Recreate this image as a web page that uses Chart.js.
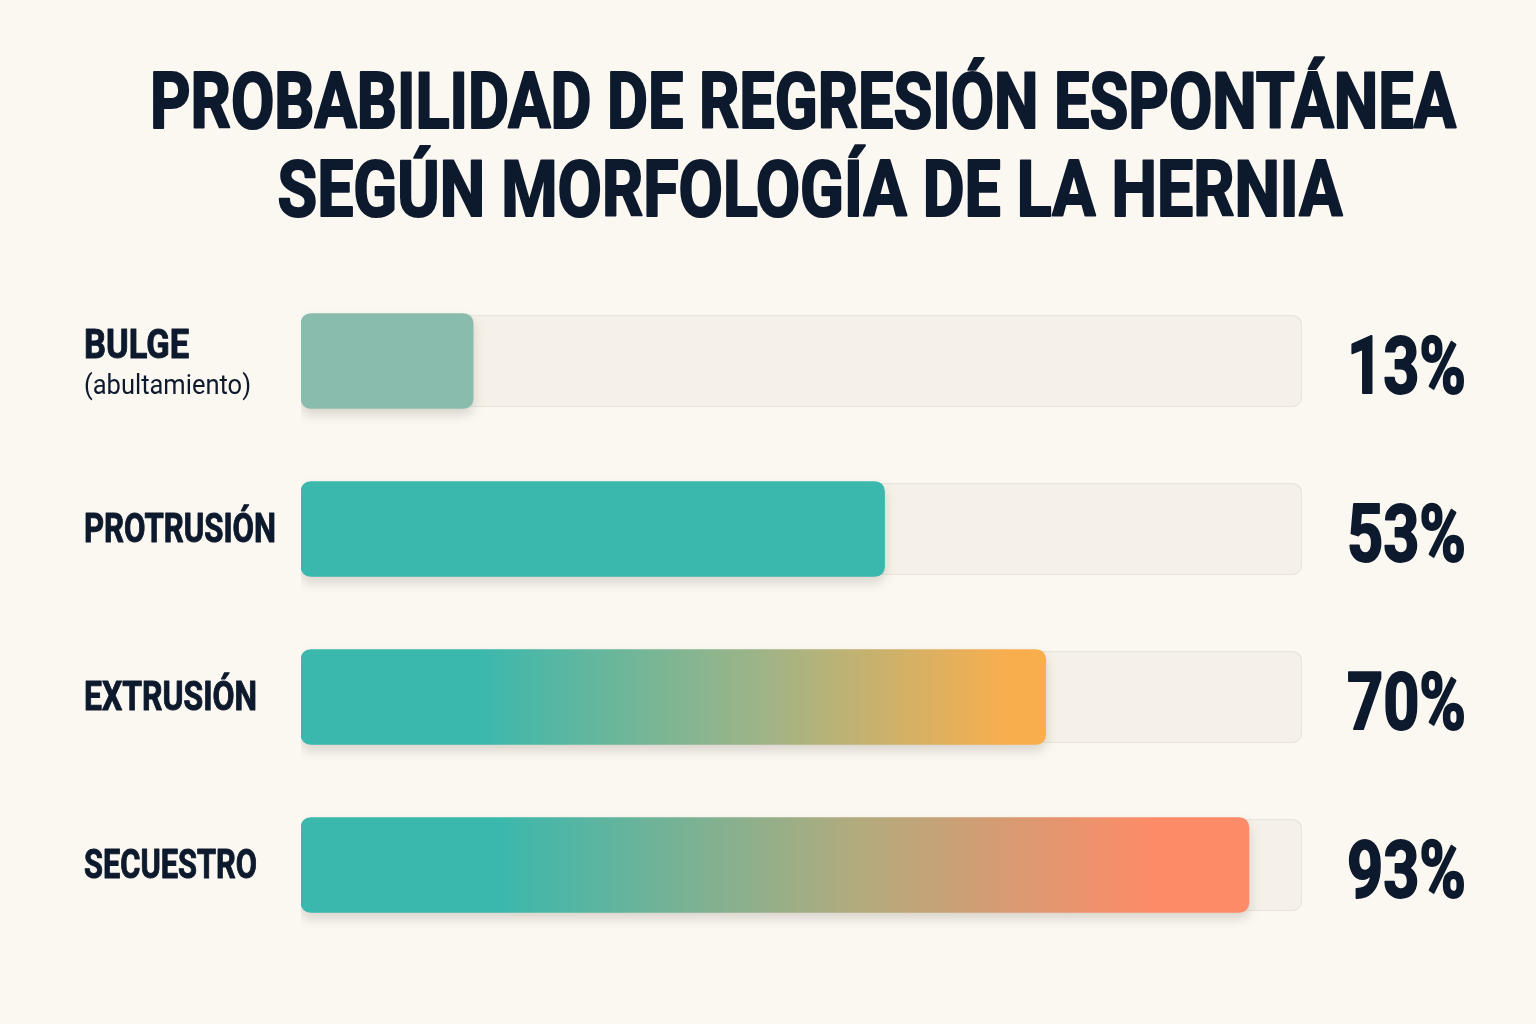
<!DOCTYPE html>
<html>
<head>
<meta charset="utf-8">
<script src="https://cdn.jsdelivr.net/npm/chart.js@4.4.1/dist/chart.umd.min.js"></script>
<style>
  html, body { margin: 0; background: #fbf8f2; }
  #wrap { width: 1536px; height: 1024px; }
</style>
</head>
<body>
<div id="wrap"><canvas id="herniaChart" width="1536" height="1024"></canvas></div>
<script>
// data
const titleLines = ["PROBABILIDAD DE REGRESIÓN ESPONTÁNEA", "SEGÚN MORFOLOGÍA DE LA HERNIA"];
const categories = ["BULGE", "PROTRUSIÓN", "EXTRUSIÓN", "SECUESTRO"];
const subLabels = ["(abultamiento)", "", "", ""];
const barValues = [17.2, 58.3, 74.4, 94.7];   // drawn bar lengths
const pctLabels = ["13%", "53%", "70%", "93%"];
const trackValues = [100, 100, 100, 100];

const family = "Roboto, 'DejaVu Sans', sans-serif";
const ink = "#0d192c";
const teal = "#3bb8ad";
// widths the row names take in the picture
const labelWidths = { "BULGE": 105, "PROTRUSIÓN": 192, "EXTRUSIÓN": 173, "SECUESTRO": 173 };

// gradient stops per bar, [offset, colour]
const barStops = [
    [[0, "#8abcae"], [1, "#8abcae"]],
    [[0, teal], [1, teal]],
    [[0, teal], [0.24, teal], [0.62, "#9fb487"], [0.95, "#f9ae4e"], [1, "#f9ae4e"]],
    [[0, teal], [0.21, teal], [0.58, "#b0ac7e"], [0.9, "#fd8b68"], [1, "#fd8b68"]]
];

const barFill = (ctx) => {
    const chart = ctx.chart;
    if (!chart.chartArea) return teal;
    const x = chart.scales.x;
    const x0 = x.getPixelForValue(0);
    const x1 = x.getPixelForValue(barValues[ctx.dataIndex]);
    const g = chart.ctx.createLinearGradient(x0, 0, x1, 0);
    barStops[ctx.dataIndex].forEach(s => g.addColorStop(s[0], s[1]));
    return g;
};

// draws text squeezed horizontally so it fits a given width (fake condensed face)
function squeezed(c, text, font, x, baseline, width, align, stroke) {
    c.save();
    c.font = font;
    const w = c.measureText(text).width;
    const sx = width / w;
    let left = x;
    if (align === "center") left = x - width / 2;
    if (align === "right") left = x - width;
    c.translate(left, baseline);
    c.scale(sx, 1);
    c.textAlign = "left";
    c.textBaseline = "alphabetic";
    c.fillText(text, 0, 0);
    if (stroke) {
        c.strokeStyle = ink;
        c.lineWidth = stroke;
        c.lineJoin = "round";
        c.strokeText(text, 0, 0);
    }
    c.restore();
}

const bgPlugin = {
    id: "bg",
    beforeDraw(chart) {
        const c = chart.ctx;
        c.save();
        c.fillStyle = "#fbf8f2";
        c.fillRect(0, 0, chart.width, chart.height);
        c.restore();
    }
};

const shadowPlugin = {
    id: "barShadow",
    beforeDatasetDraw(chart, args) {
        if (args.index !== 1) return;
        const c = chart.ctx;
        c.save();
        c.shadowColor = "rgba(60,50,30,0.18)";
        c.shadowBlur = 12;
        c.shadowOffsetY = 6;
    },
    afterDatasetDraw(chart, args) {
        if (args.index !== 1) return;
        chart.ctx.restore();
    }
};

const textPlugin = {
    id: "texts",
    afterDraw(chart) {
        const c = chart.ctx;
        const y = chart.scales.y;
        c.save();
        c.fillStyle = ink;

        // title, squeezed to the width of the reference lines
        const tFont = "bold 78px " + family;
        squeezed(c, titleLines[0], tFont, 803, 128, 1306, "center", 2.2);
        squeezed(c, titleLines[1], tFont, 810, 216, 1065, "center", 2.2);

        // row labels and percentages
        const lFont = "bold 41px " + family;
        const pFont = "bold 79px " + family;
        c.font = pFont;
        const psx = 119 / c.measureText("13%").width;

        categories.forEach((name, i) => {
            const cy = y.getPixelForValue(i);
            if (subLabels[i]) {
                squeezed(c, name, lFont, 84, cy - 3, labelWidths[name], "left", 1);
                squeezed(c, subLabels[i], "27px " + family, 84, cy + 33, 167, "left");
            } else {
                squeezed(c, name, lFont, 84, cy + 13, labelWidths[name], "left", 1);
            }
            c.font = pFont;
            const pw = c.measureText(pctLabels[i]).width * psx;
            squeezed(c, pctLabels[i], pFont, 1466, cy + 32, pw, "right", 2);
        });
        c.restore();
    }
};

new Chart(document.getElementById("herniaChart"), {
    type: "bar",
    data: {
        labels: categories,
        datasets: [
            {
                label: "track",
                data: trackValues,
                backgroundColor: "#f5f1e8",
                borderColor: "#ebe6dc",
                borderWidth: 1.5,
                borderRadius: 10,
                borderSkipped: false,
                barThickness: 92,
                grouped: false,
                order: 2
            },
            {
                label: "regresión",
                data: barValues,
                backgroundColor: barFill,
                borderRadius: 10,
                borderSkipped: false,
                barThickness: 95,
                grouped: false,
                order: 1
            }
        ]
    },
    options: {
        indexAxis: "y",
        responsive: false,
        animation: false,
        layout: { padding: { left: 301, right: 234, top: 277, bottom: 75 } },
        scales: {
            x: { min: 0, max: 100, display: false },
            y: { display: false }
        },
        plugins: {
            legend: { display: false },
            tooltip: { enabled: false },
            title: { display: false }
        }
    },
    plugins: [bgPlugin, shadowPlugin, textPlugin]
});
</script>
</body>
</html>
